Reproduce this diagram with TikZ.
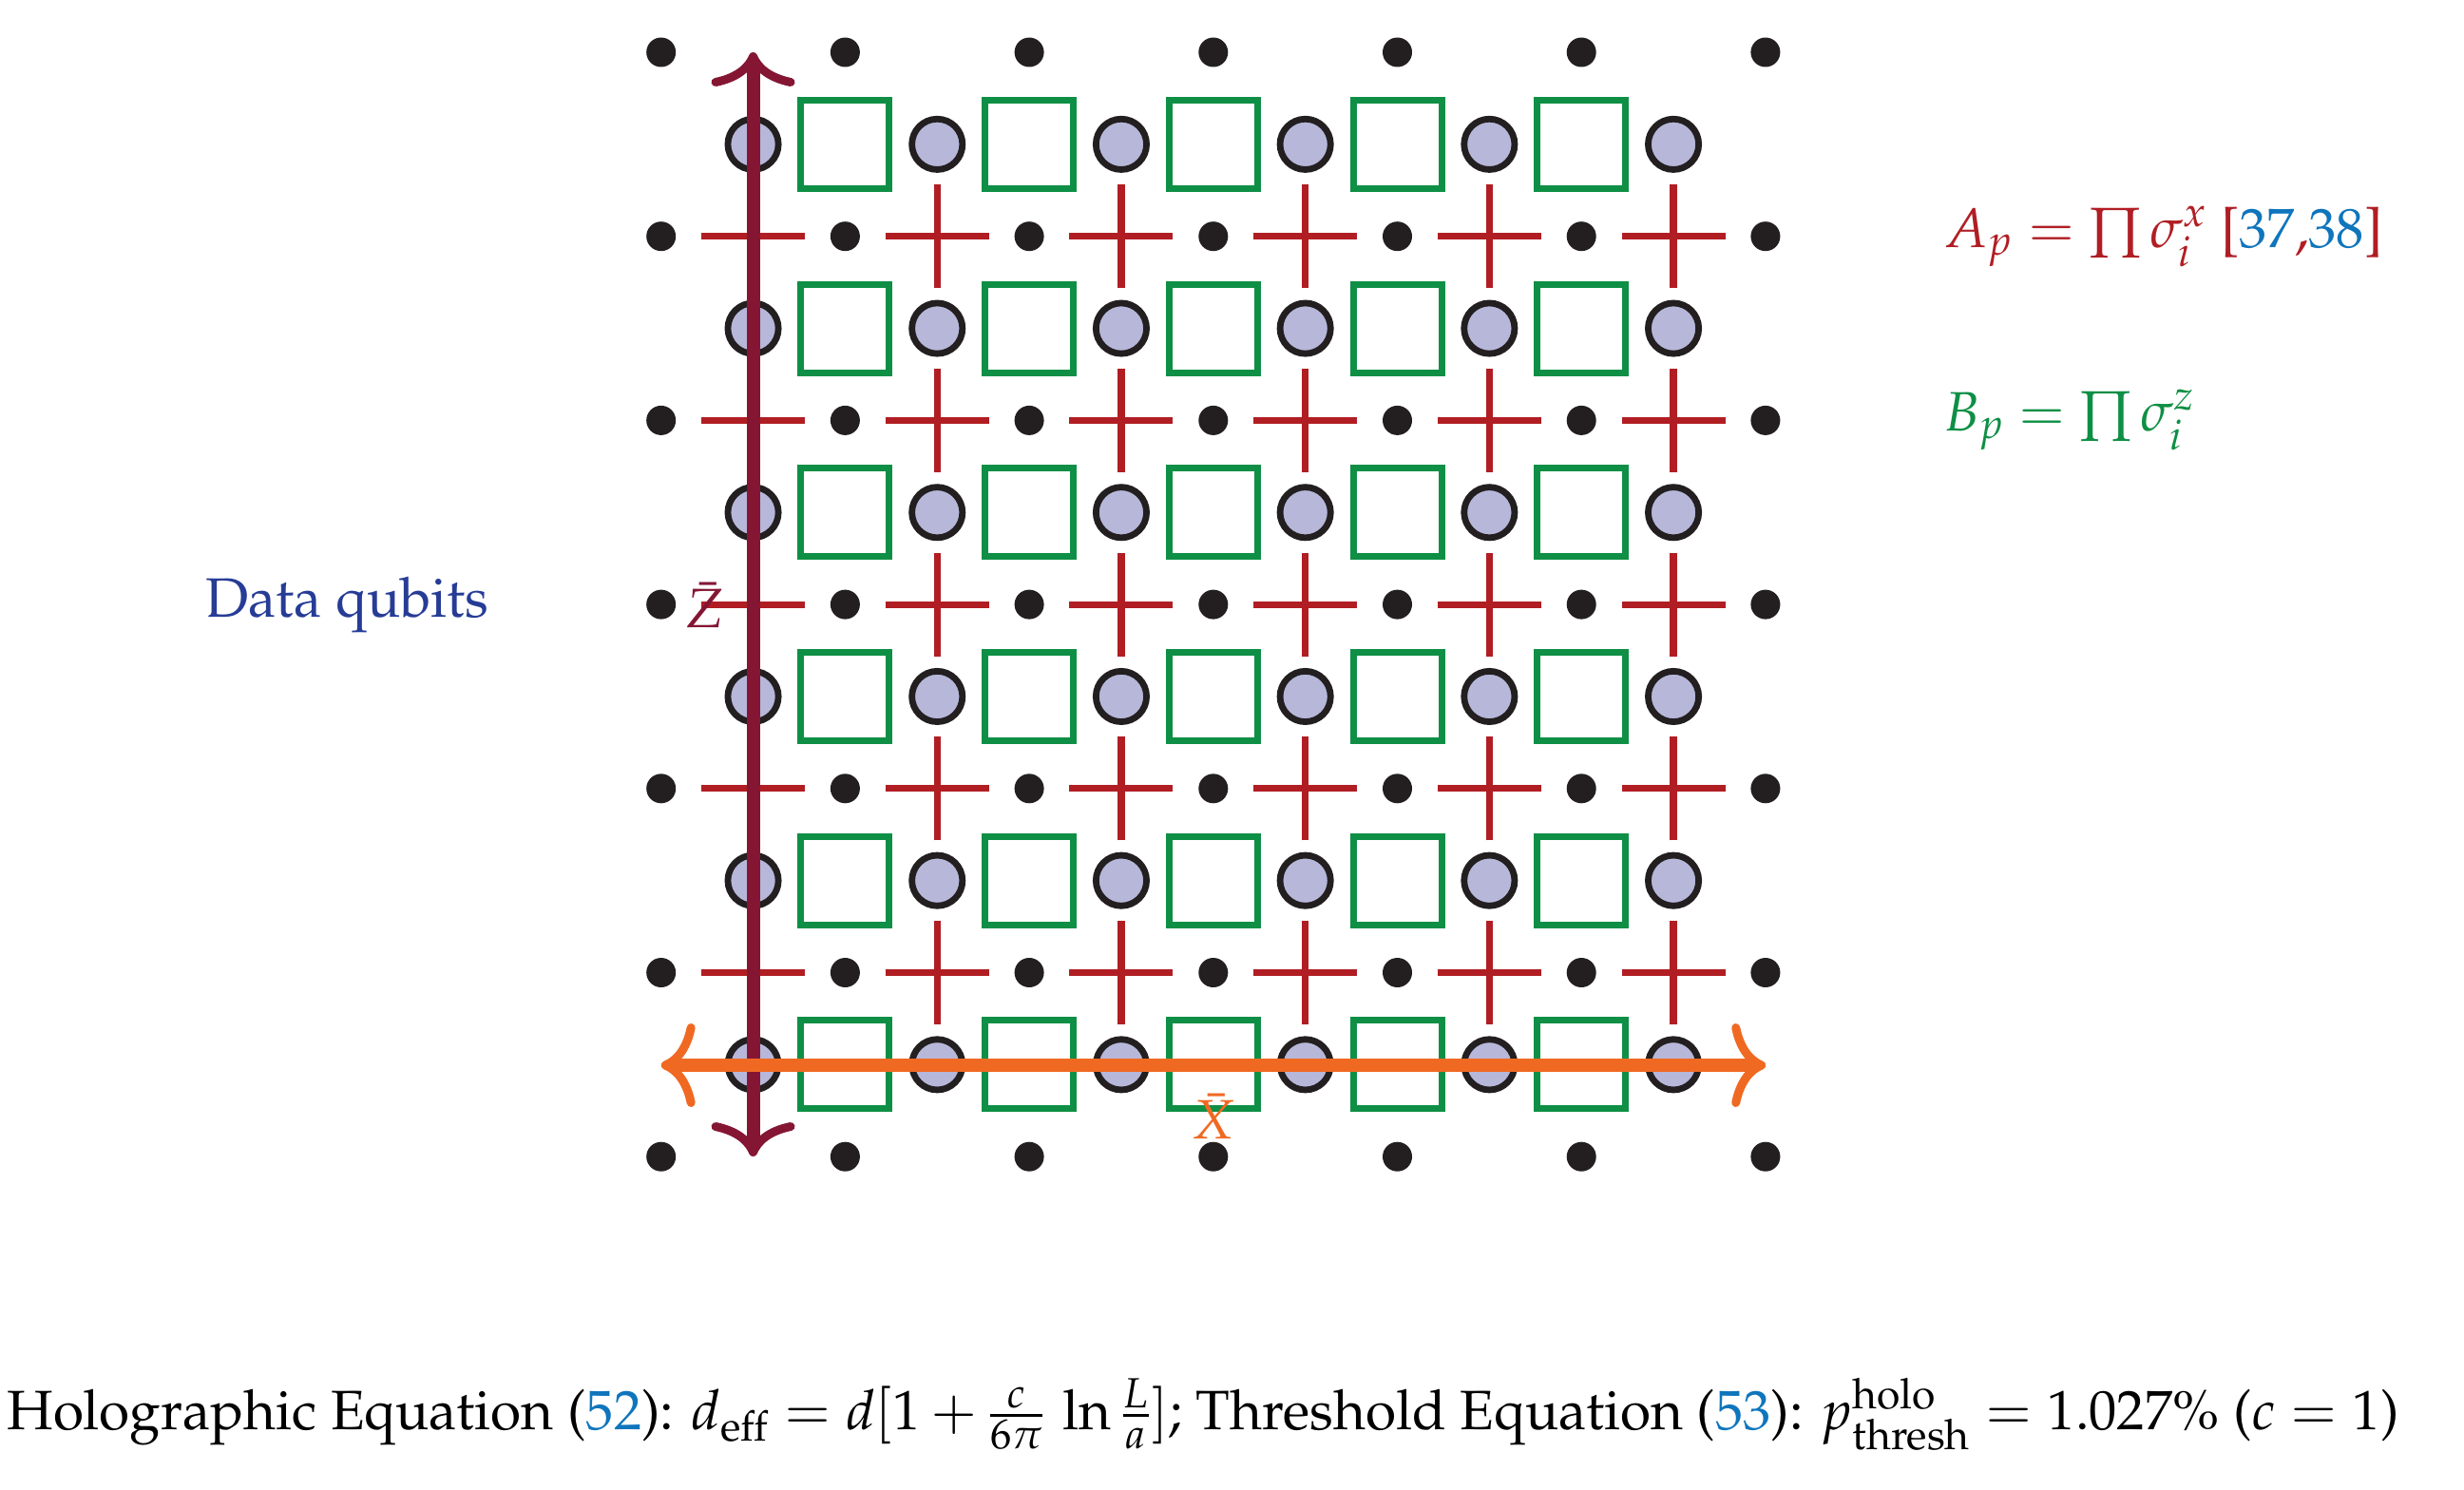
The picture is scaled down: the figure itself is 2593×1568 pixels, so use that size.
\documentclass[tikz,border=0pt]{standalone}
\usepackage[T1]{fontenc}
\usepackage{mathpazo}
\usetikzlibrary{arrows.meta}
\definecolor{dotblack}{RGB}{35,31,32}
\definecolor{lav}{RGB}{183,183,218}
\definecolor{plaqgreen}{RGB}{14,143,69}
\definecolor{crossred}{RGB}{176,30,36}
\definecolor{zmaroon}{RGB}{132,22,52}
\definecolor{xorange}{RGB}{240,105,34}
\definecolor{dqblue}{RGB}{38,60,150}
\definecolor{citeblue}{RGB}{15,117,188}
\tikzset{
  dotnode/.style={circle, fill=dotblack, minimum size=15.5pt, inner sep=0pt},
  qubit/.style={circle, draw=dotblack, fill=lav, line width=3.4pt, minimum size=26.6pt, inner sep=0pt},
  plaq/.style={rectangle, draw=plaqgreen, line width=3.5pt, minimum size=46.5pt, inner sep=0pt},
  crossline/.style={draw=crossred, line width=3.6pt},
  cmtip/.tip={Computer Modern Rightarrow[length=18pt,width=44pt,line width=4.5pt]},
  zarrow/.style={draw=zmaroon, line width=7pt, arrows={cmtip-cmtip}},
  xarrow/.style={draw=xorange, line width=6.8pt, arrows={cmtip-cmtip}},
  lbl/.style={inner sep=0pt, font=\fontsize{29.2}{35}\selectfont}
}
\begin{document}
\begin{tikzpicture}[x=0.5pt, y=-0.5pt]
\useasboundingbox (0,0) rectangle (2593,1568);
\def\dd{193.7}
% black dots
\foreach \i in {0,...,6}{
  \foreach \j in {0,...,6}{
    \node[dotnode] (d-\i-\j) at ({695.7+\dd*\i},{55+\dd*\j}) {};
  }
}
% red crosses
\foreach \i in {0,...,5}{
  \foreach \j in {1,...,5}{
    \coordinate (c-\i-\j) at ({792.55+\dd*\i},{55+\dd*\j});
    \draw[crossline] ([xshift=-27.25pt]c-\i-\j) -- ([xshift=27.25pt]c-\i-\j);
    \draw[crossline] ([yshift=-27.25pt]c-\i-\j) -- ([yshift=27.25pt]c-\i-\j);
  }
}
% green plaquettes
\foreach \i in {1,...,5}{
  \foreach \j in {0,...,5}{
    \node[plaq] (s-\i-\j) at ({695.7+\dd*\i},{151.85+\dd*\j}) {};
  }
}
% data qubits
\foreach \i in {0,...,5}{
  \foreach \j in {0,...,5}{
    \node[qubit] (q-\i-\j) at ({792.55+\dd*\i},{151.85+\dd*\j}) {};
  }
}
% logical operators
\coordinate (ztop) at (792.55,55);
\coordinate (zbot) at (792.55,1217);
\draw[zarrow] (zbot) -- (ztop);
\coordinate (xleft) at (695.7,1121);
\coordinate (xright) at (1858.2,1121);
\draw[xarrow] (xleft) -- (xright);
% labels
\node[lbl, anchor=base, text=zmaroon] (zlab) at (742,660) {$\bar{Z}$};
\node[lbl, anchor=base, text=xorange] (xlab) at (1277,1198) {$\bar{X}$};
\node[lbl, anchor=base west, text=dqblue] (dq) at (216,649) {Data qubits};
\node[lbl, anchor=base west, text=crossred] (ap) at (2045,260)
  {$A_p = \prod \sigma_i^x$ [{\color{citeblue}37},{\color{citeblue}38}]};
\node[lbl, anchor=base west, text=plaqgreen] (bp) at (2045,453)
  {$B_p = \prod \sigma_i^z$};
\node[lbl, anchor=base] (eqs) at (1266,1504)
  {Holographic Equation ({\color{citeblue}52}): $d_{\mathrm{eff}} = d[1 + \frac{c}{6\pi}\,\ln\frac{L}{a}]$; Threshold Equation ({\color{citeblue}53}): $p^{\mathrm{holo}}_{\mathrm{thresh}} = 1.027\%$ ($c = 1$)};
\end{tikzpicture}
\end{document}
